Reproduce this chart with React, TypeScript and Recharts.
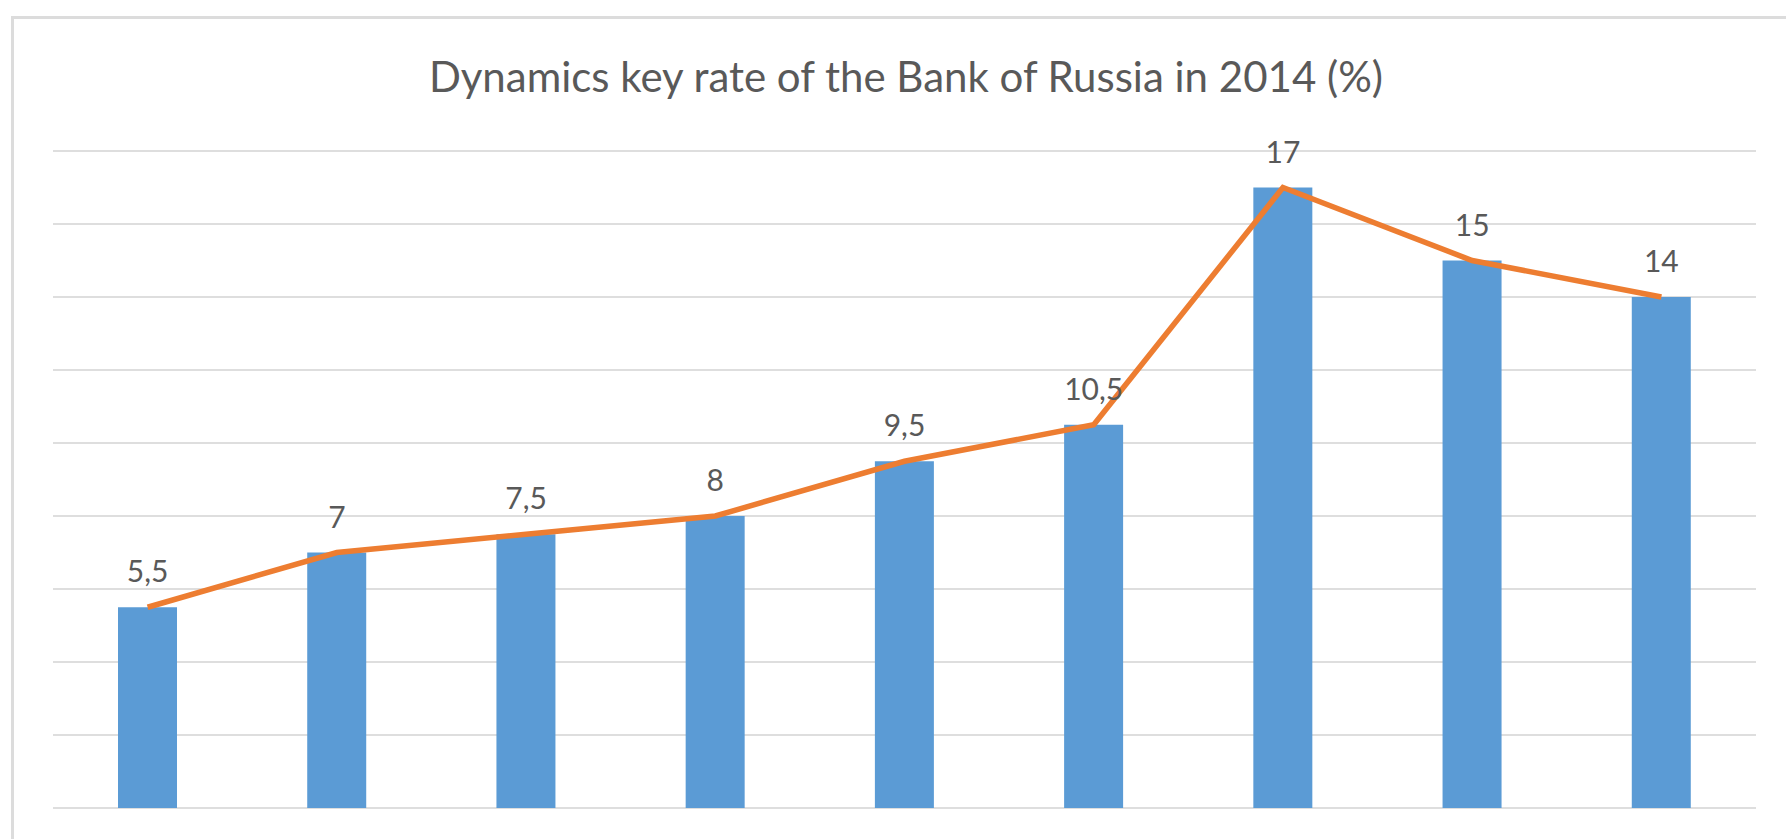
import React from "react";
import {
	Bar,
	CartesianGrid,
	ComposedChart,
	LabelList,
	Line,
	XAxis,
	YAxis,
} from "recharts";

const dates = [
	"01.01.2014",
	"03.03.2014",
	"28.04.2014",
	"28.07.2014",
	"05.11.2014",
	"12.12.2014",
	"16.12.2014",
	"02.02.2015",
	"16.03.2015",
];
const keyRate = [5.5, 7, 7.5, 8, 9.5, 10.5, 17, 15, 14];
const yTicks = [0, 2, 4, 6, 8, 10, 12, 14, 16, 18];

const title = "Dynamics key rate of the Bank of Russia in 2014 (%)";

const data = dates.map((date, i) => ({ date, bar: keyRate[i], line: keyRate[i] }));

const fmt = (v: any) => String(v).replace(".", ",");

export default function App() {
	return (
		<div
			style={{
				position: "absolute",
				left: 0,
				top: 0,
				width: 1786,
				height: 839,
				background: "#fff",
				overflow: "hidden",
				fontFamily: "Lato, sans-serif",
			}}
		>
			<div
				style={{
					position: "absolute",
					left: 11,
					top: 16,
					right: -10,
					bottom: -10,
					borderLeft: "3px solid #dcdcdc",
					borderTop: "3px solid #dcdcdc",
				}}
			/>
			<div
				style={{
					position: "absolute",
					left: 0,
					width: 1812,
					top: 51,
					textAlign: "center",
					fontSize: 42,
					color: "#595959",
					whiteSpace: "nowrap",
				}}
			>
				{title}
			</div>
			<div style={{ position: "absolute", left: 0, top: 0 }}>
				<ComposedChart
					width={1786}
					height={839}
					data={data}
					margin={{ top: 151, right: 30, bottom: 31, left: 53 }}
				>
					<CartesianGrid
						vertical={false}
						stroke="#dedede"
						strokeWidth={2}
					/>
					<XAxis dataKey="date" hide />
					<YAxis hide domain={[0, 18]} ticks={yTicks} />
					<Bar
						dataKey="bar"
						fill="#5B9BD5"
						barSize={59}
						isAnimationActive={false}
					/>
					<Line
						dataKey="line"
						type="linear"
						stroke="#ED7D31"
						strokeWidth={5.5}
						dot={false}
						activeDot={false}
						isAnimationActive={false}
					>
						<LabelList
							dataKey="line"
							position="top"
							offset={25}
							formatter={fmt}
							fill="#595959"
							fontSize={30}
							fontFamily="Lato, sans-serif"
						/>
					</Line>
				</ComposedChart>
			</div>
		</div>
	);
}
